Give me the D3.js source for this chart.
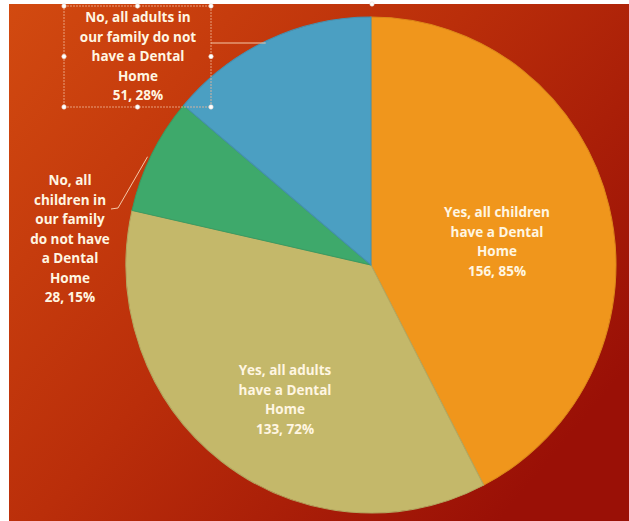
<!DOCTYPE html>
<html>
<head>
<meta charset="utf-8">
<script src="https://cdn.jsdelivr.net/npm/d3@7"></script>
<style>
  html, body { margin: 0; padding: 0; background: #ffffff; }
  svg { display: block; }
</style>
</head>
<body>
<svg id="chart" width="629" height="521"></svg>
<script>
// Dental home survey responses
const categories = [
  "Yes, all children have a Dental Home",
  "Yes, all adults have a Dental Home",
  "No, all children in our family do not have a Dental Home",
  "No, all adults in our family do not have a Dental Home"
];
const counts = [156, 133, 28, 51];
const percents = ["85%", "72%", "15%", "28%"];
const sliceColors = ["#F0961C", "#C4B86A", "#3EA96B", "#4B9FC2"];
// Label text broken into lines, as laid out on the chart
const labelLines = [
  ["Yes, all children", "have a Dental", "Home"],
  ["Yes, all adults", "have a Dental", "Home"],
  ["No, all", "children in", "our family", "do not have", "a Dental", "Home"],
  ["No, all adults in", "our family do not", "have a Dental", "Home"]
];

const W = 629, H = 521;
const svg = d3.select("#chart");

// Background panel with a warm diagonal gradient
const defs = svg.append("defs");
const grad = defs.append("linearGradient")
  .attr("id", "bg").attr("x1", "0").attr("y1", "0").attr("x2", "1").attr("y2", "0.7");
grad.append("stop").attr("offset", "0").attr("stop-color", "#D24A10");
grad.append("stop").attr("offset", "0.5").attr("stop-color", "#BA2E0A");
grad.append("stop").attr("offset", "1").attr("stop-color", "#9A1006");

svg.append("rect").attr("x", 0).attr("y", 0).attr("width", W).attr("height", H).attr("fill", "#ffffff");
svg.append("rect").attr("x", 9).attr("y", 4).attr("width", W - 9).attr("height", H - 4).attr("fill", "url(#bg)");

// Pie geometry
const cx = 371, cy = 265, r = 245;
const data = categories.map((c, i) => ({ name: c, count: counts[i], pct: percents[i], color: sliceColors[i], lines: labelLines[i] }));
const pie = d3.pie().value(d => d.count).sort(null);
const arcs = pie(data);
const arc = d3.arc().innerRadius(0).outerRadius(r);

const g = svg.append("g").attr("transform", `translate(${cx},${cy}) scale(1,1.012)`);
g.selectAll("path.slice")
  .data(arcs)
  .join("path")
  .attr("class", "slice")
  .attr("d", arc)
  .attr("fill", d => d.data.color)
  .attr("stroke", d => d3.color(d.data.color).darker(0.25))
  .attr("stroke-width", 1);

const textColor = "#FFF6E2";
const fontFamily = "'Open Sans', 'Noto Sans', sans-serif";
const lineH = 19.5;

function drawLabel(x, yTop, lines) {
  const t = svg.append("text")
    .attr("text-anchor", "middle")
    .attr("font-family", fontFamily)
    .attr("font-weight", 700)
    .attr("font-size", 13.5)
    .attr("fill", textColor);
  lines.forEach((s, k) => {
    t.append("tspan").attr("x", x).attr("y", yTop + k * lineH).text(s);
  });
  return t;
}

function fullLines(d) { return d.lines.concat([`${d.count}, ${d.pct}`]); }

// Inside labels for the two large slices
drawLabel(497, 217, fullLines(data[0]));
drawLabel(285, 375, fullLines(data[1]));

// Outside labels for the two small slices
drawLabel(70, 185, fullLines(data[2]));
drawLabel(138, 22, fullLines(data[3]));

// Leader lines to the outer edge of the small slices
const edge = (d, rr) => {
  const a = (d.startAngle + d.endAngle) / 2;
  return [cx + rr * Math.sin(a), cy - rr * Math.cos(a) * 1.012];
};
const gEdge = edge(arcs[2], r);
svg.append("path")
  .attr("d", `M${111},${209} L${118},${208} L${gEdge[0] - 4},${gEdge[1] + 2}`)
  .attr("fill", "none").attr("stroke", "#F4C8A8").attr("stroke-width", 1);

const bEdge = edge(arcs[3], r);
svg.append("line")
  .attr("x1", 211).attr("y1", 43).attr("x2", bEdge[0] - 2).attr("y2", 43)
  .attr("stroke", "#F4C8A8").attr("stroke-width", 1);

// Selection frame around the top label
const box = { x0: 64, y0: 6, x1: 211, y1: 107 };
svg.append("rect")
  .attr("x", box.x0).attr("y", box.y0)
  .attr("width", box.x1 - box.x0).attr("height", box.y1 - box.y0)
  .attr("fill", "none").attr("stroke", "#F0B898").attr("stroke-width", 1)
  .attr("stroke-dasharray", "2,1").attr("opacity", 0.8);
const mx = (box.x0 + box.x1) / 2, my = (box.y0 + box.y1) / 2;
const handles = [
  [box.x0, box.y0], [mx, box.y0], [box.x1, box.y0],
  [box.x0, my], [box.x1, my],
  [box.x0, box.y1], [mx, box.y1], [box.x1, box.y1],
  [372, 4]
];
svg.selectAll("circle.handle")
  .data(handles)
  .join("circle")
  .attr("class", "handle")
  .attr("cx", d => d[0]).attr("cy", d => d[1]).attr("r", 2.2)
  .attr("fill", "#FFFFFF").attr("stroke", "#E8D8D0").attr("stroke-width", 0.6);
</script>
</body>
</html>
